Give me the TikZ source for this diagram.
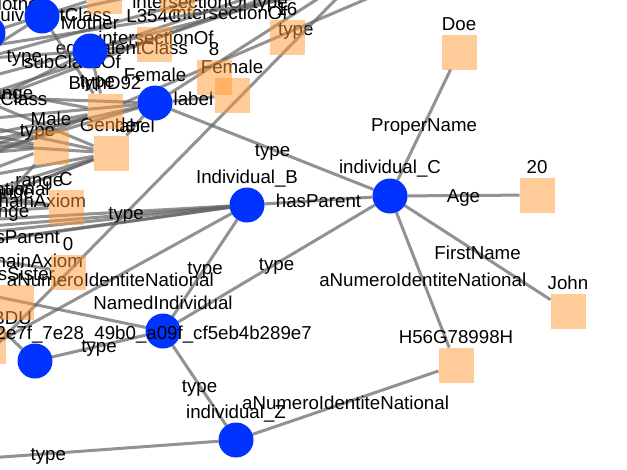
\documentclass[tikz,border=0pt]{standalone}
\usepackage{fontspec}
\setmainfont{Liberation Sans}
\pgfdeclarelayer{bgl}
\pgfdeclarelayer{edges}
\pgfdeclarelayer{texts}
\pgfsetlayers{bgl,edges,texts,main}
\definecolor{entblue}{RGB}{0,51,255}
\definecolor{litorange}{RGB}{255,153,51}
\definecolor{linkgray}{RGB}{100,100,100}
\newcommand\lbf{\fontsize{18.7}{22}\selectfont}
\tikzset{
  ent/.style={circle, fill=entblue, minimum size=35pt, inner sep=0pt, outer sep=0pt},
  lit/.style={rectangle, fill=litorange, fill opacity=0.5, minimum size=35pt, inner sep=0pt, outer sep=0pt},
  lnk/.style={draw=linkgray, draw opacity=0.7, line width=3pt},
  elab/.style={font=\lbf, anchor=base, yshift=-6.5pt, inner sep=0pt, text=black},
  nlab/.style={font=\lbf, anchor=base, inner sep=0pt, text=black},
}
\begin{document}
\begin{tikzpicture}[x=1pt,y=-1pt]
\useasboundingbox (0,0) rectangle (627,469);
\begin{pgfonlayer}{bgl}
\fill[white] (0,0) rectangle (627,469);
\end{pgfonlayer}
% ---------- entity circles ----------
\node[ent] (iC) at (390,196) {};
\node[ent] (iB) at (247,205) {};
\node[ent] (ni) at (163,331) {};
\node[ent] (idL) at (35,361) {};
\node[ent] (iZ) at (236,440) {};
\node[ent] (fem) at (155,103) {};
\node[ent] (moth) at (90,51) {};
\node[ent] (c2) at (42,16) {};
\node[ent] (c3) at (-12,33) {};
% ---------- literal squares ----------
\node[lit] (doe) at (459,52) {};
\node[lit] (age) at (537,195) {};
\node[lit] (john) at (568,311) {};
\node[lit] (h56) at (456,365) {};
\node[lit] (f1) at (214,77) {};
\node[lit] (f2) at (232,95) {};
\node[lit] (s16) at (287,37) {};
\node[lit] (sL) at (154,44) {};
\node[lit] (sBirth) at (105,111) {};
\node[lit] (sGender) at (111,153) {};
\node[lit] (sMale) at (51,147) {};
\node[lit] (sAx) at (66,207) {};
\node[lit] (s0) at (68,272) {};
\node[lit] (sSis) at (16,302) {};
\node[lit] (sX) at (-12,346) {};
\node[lit] (sTop1) at (104,-4) {};
\node[lit] (sTop2) at (177,-5) {};
% label of the long-named individual, drawn over the circles
\node[nlab, anchor=base east] (tidL) at (312,339) {92e7f\_7e28\_49b0\_a09f\_cf5eb4b289e7};
% ---------- off-canvas endpoints ----------
\coordinate (oZ) at (-122,466);
\coordinate (oB1) at (-11,347);
\coordinate (oB2) at (-195,267);
\coordinate (oB3) at (-300,250);
\coordinate (oB4) at (-300,262);
\coordinate (oB5) at (-300,280);
\coordinate (oB6) at (-300,236);
\coordinate (oD1) at (-93,436);
\coordinate (oD2) at (345,-10);
\coordinate (oN1) at (-60,285);
\coordinate (oI1) at (-30,300);
\coordinate (oF1) at (480,-105);
\coordinate (oF2) at (-63,153);
\coordinate (oF3) at (-80,95);
\coordinate (oF4) at (-80,125);
\coordinate (oF5) at (-90,175);
\coordinate (oM1) at (-24,59);
\coordinate (oM2) at (360,-40);
\coordinate (oM3) at (-90,140);
\coordinate (oC2) at (300,-40);
\coordinate (oC3) at (-90,100);
\coordinate (oT1) at (-60,110);
\coordinate (oT2) at (372,-34);
\coordinate (oT3) at (-80,95);
\coordinate (oT4) at (540,-69);
\coordinate (oT5) at (-60,70);
\coordinate (oT6) at (440,-66);
\coordinate (oT7) at (-100,60);
\coordinate (oT8) at (640,-56);
\coordinate (oT9) at (469,-45);
\coordinate (oT10) at (-90,130);
\coordinate (oT11) at (420,-60);
\coordinate (oL1) at (-69,79);
\coordinate (oL2) at (-131,53);
\coordinate (oL3) at (-15,201);
\coordinate (oL4) at (-15,219);
\coordinate (oL5) at (-156,173);
\coordinate (oL6) at (-46,197);
\coordinate (oL7) at (-54,252);
\coordinate (oL8) at (-38,213);
\coordinate (oL9) at (-90,150);
\coordinate (oL10) at (-90,185);
\coordinate (oL11) at (-90,110);
\coordinate (oL12) at (-90,140);
\coordinate (oL13) at (-90,160);
\coordinate (oL14) at (-90,120);
\coordinate (oL15) at (-90,200);
\coordinate (oL16) at (-90,230);
\coordinate (oL17) at (-90,170);
\coordinate (oL18) at (-90,190);
\coordinate (oL19) at (-90,215);
\coordinate (oL20) at (-90,135);
% ---------- connectors ----------
\begin{pgfonlayer}{edges}
% fan on the left
\draw[lnk] (sBirth) -- (oL9);
\draw[lnk] (sBirth) -- (oL10);
\draw[lnk] (sBirth) -- (oL17);
\draw[lnk] (sGender) -- (oL11);
\draw[lnk] (sGender) -- (oL12);
\draw[lnk] (sGender) -- (oL18);
\draw[lnk] (sGender) -- (oL19);
\draw[lnk] (sMale) -- (oL13);
\draw[lnk] (sMale) -- (oL14);
\draw[lnk] (sMale) -- (oL15);
\draw[lnk] (sMale) -- (oL20);
\draw[lnk] (sGender) -- (oL16);
\draw[lnk] (fem) -- (oF3);
\draw[lnk] (fem) -- (oF4);
\draw[lnk] (fem) -- (oF5);
\draw[lnk] (fem) -- (oF1);
\draw[lnk] (moth) -- (oM2);
\draw[lnk] (moth) -- (oM3);
\draw[lnk] (c2) -- (oC2);
\draw[lnk] (c2) -- (oC3);
\draw[lnk] (oT10) -- (oT11);
\draw[lnk] (iB) -- (oB3);
\draw[lnk] (iB) -- (oB4);
\draw[lnk] (iB) -- (oB5);
\draw[lnk] (iB) -- (oB6);
\draw[lnk] (ni) -- (oN1);
\draw[lnk] (idL) -- (oI1);
% labelled, clutter
\draw[lnk] (oT1) -- (oT2) node[elab, midway] {intersectionOf};
\draw[lnk] (oT3) -- (oT4) node[elab, midway] {intersectionOf};
\draw[lnk] (oT5) -- (oT6) node[elab, midway] {intersectionOf};
\draw[lnk] (oT7) -- (oT8) node[elab, midway] {type};
\draw[lnk] (sBirth) -- (oT9) node[elab, midway] {type};
\draw[lnk] (c3) -- (sTop1) node[elab, midway] {equivalentClass};
\draw[lnk] (moth) -- (sL) node[elab, midway] {equivalentClass};
\draw[lnk] (moth) -- (oM1) node[elab, midway] {type};
\draw[lnk] (c2) -- (sBirth) node[elab, midway] {subClassOf};
\draw[lnk] (moth) -- (sBirth) node[elab, midway] {type};
\draw[lnk] (sBirth) -- (oL1) node[elab, midway] {range};
\draw[lnk] (sGender) -- (oL2) node[elab, midway] {equivalentClass};
\draw[lnk] (fem) -- (oF2) node[elab, midway] {type};
\draw[lnk] (sGender) -- (oL3) node[elab, midway] {range};
\draw[lnk] (sMale) -- (oL4) node[elab, midway] {range};
\draw[lnk] (sAx) -- (oL5) node[elab, midway] {aNumeroIdentiteNational};
\draw[lnk] (sAx) -- (oL6) node[elab, midway] {propertyChainAxiom};
\draw[lnk] (sAx) -- (oL8) node[elab, midway] {range};
\draw[lnk] (s0) -- (oL7) node[elab, midway] {propertyChainAxiom};
\draw[lnk] (fem) -- (f2) node[elab, midway] {label};
\draw[lnk] (fem) -- (sGender) node[elab, midway] {label};
\draw[lnk] (oD1) -- (oD2) node[elab, midway] {type};
% labelled, main part
\draw[lnk] (iB) -- (oB2) node[elab, midway] {hasParent};
\draw[lnk] (iB) -- (oB1) node[elab, midway] {aNumeroIdentiteNational};
\draw[lnk] (iZ) -- (oZ) node[elab, midway] {type};
\draw[lnk] (iC) -- (fem) node[elab, midway] {type};
\draw[lnk] (iC) -- (ni) node[elab, midway] {type};
\draw[lnk] (iB) -- (ni) node[elab, midway] {type};
\draw[lnk] (ni) -- (idL) node[elab, midway] {type};
\draw[lnk] (ni) -- (iZ) node[elab, midway] {type};
\draw[lnk] (iZ) -- (h56) node[elab, midway] {aNumeroIdentiteNational};
\draw[lnk] (iC) -- (iB) node[elab, midway] {hasParent};
\draw[lnk] (iC) -- (doe) node[elab, midway] {ProperName};
\draw[lnk] (iC) -- (age) node[elab, midway] {Age};
\draw[lnk] (iC) -- (john) node[elab, midway] {FirstName};
\draw[lnk] (iC) -- (h56) node[elab, midway] {aNumeroIdentiteNational};
\end{pgfonlayer}
% ---------- node labels ----------
\begin{pgfonlayer}{texts}
\node[nlab] (tiC) at ([yshift=22.5pt]iC.center) {individual\_C};
\node[nlab] (tiB) at ([yshift=22pt]iB.center) {Individual\_B};
\node[nlab] (tni) at ([yshift=22pt]ni.center) {NamedIndividual};
\node[nlab] (tiZ) at ([yshift=22pt]iZ.center) {individual\_Z};
\node[nlab] (tfem) at ([yshift=22pt]fem.center) {Female};
\node[nlab] (tmoth) at ([yshift=22pt]moth.center) {Mother};
\node[nlab] (tdoe) at ([yshift=21.5pt]doe.center) {Doe};
\node[nlab] (tage) at ([yshift=21.5pt]age.center) {20};
\node[nlab] (tjohn) at ([yshift=21.5pt]john.center) {John};
\node[nlab] (th56) at ([yshift=21.5pt]h56.center) {H56G78998H};
\node[nlab] (tf1) at ([yshift=22pt]f1.center) {8};
\node[nlab] (tf2) at ([yshift=22pt]f2.center) {Female};
\node[nlab] (ts16) at ([yshift=22pt]s16.center) {16};
\node[nlab] (tsL) at ([yshift=22pt]sL.center) {L354C};
\node[nlab] (tsB) at ([yshift=22pt]sBirth.center) {BirthD92};
\node[nlab] (tsG) at ([yshift=22pt]sGender.center) {Gender};
\node[nlab] (tsM) at ([yshift=22pt]sMale.center) {Male};
\node[nlab] (tsA) at ([yshift=22pt]sAx.center) {C};
\node[nlab] (ts0) at ([yshift=22pt]s0.center) {0};
\node[nlab] (tsS) at ([yshift=22pt]sSis.center) {hasSister};
\node[nlab, anchor=base east] (tother) at (45,10) {Mother};
\node[nlab, anchor=base east] (tbdu) at (32,324) {BDU};
\end{pgfonlayer}
\end{tikzpicture}
\end{document}
